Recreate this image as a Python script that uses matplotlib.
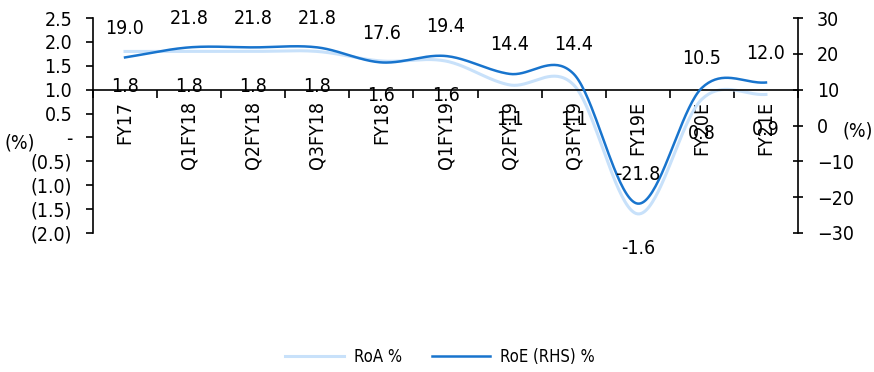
import numpy as np
import matplotlib.pyplot as plt
from matplotlib import font_manager

# pick a narrow font if one is there
names = {f.name for f in font_manager.fontManager.ttflist}
cond = [f for f in font_manager.fontManager.ttflist
        if f.name == "DejaVu Sans" and "condensed" in str(f.stretch)]
if "Liberation Sans Narrow" in names:
    plt.rcParams['font.family'] = ['Liberation Sans Narrow', 'DejaVu Sans']
    fs = 15
elif cond:
    plt.rcParams['font.family'] = ['DejaVu Sans']
    plt.rcParams['font.stretch'] = 'condensed'
    fs = 14
else:
    plt.rcParams['font.family'] = ['Liberation Sans', 'DejaVu Sans']
    fs = 13

# data
periods = ["FY17", "Q1FY18", "Q2FY18", "Q3FY18", "FY18", "Q1FY19",
           "Q2FY19", "Q3FY19", "FY19E", "FY20E", "FY21E"]
roa = [1.8, 1.8, 1.8, 1.8, 1.6, 1.6, 1.1, 1.1, -1.6, 0.8, 0.9]
roe = [19.0, 21.8, 21.8, 21.8, 17.6, 19.4, 14.4, 14.4, -21.8, 10.5, 12.0]

left_ticks = [2.5, 2.0, 1.5, 1.0, 0.5, 0.0, -0.5, -1.0, -1.5, -2.0]
left_tick_labels = ["2.5", "2.0", "1.5", "1.0", "0.5", "-",
                    "(0.5)", "(1.0)", "(1.5)", "(2.0)"]
right_ticks = [30, 20, 10, 0, -10, -20, -30]


def smooth(y, n=40):
    # catmull-rom style curve through the points (like excel smoothed lines)
    y = np.asarray(y, float)
    x = np.arange(len(y), dtype=float)
    m = np.gradient(y, x)
    xs, ys = [], []
    for i in range(len(y) - 1):
        t = np.linspace(0, 1, n, endpoint=(i == len(y) - 2))
        h00 = 2 * t**3 - 3 * t**2 + 1
        h10 = t**3 - 2 * t**2 + t
        h01 = -2 * t**3 + 3 * t**2
        h11 = t**3 - t**2
        xs.append(x[i] + t)
        ys.append(h00 * y[i] + h10 * m[i] + h01 * y[i + 1] + h11 * m[i + 1])
    return np.concatenate(xs), np.concatenate(ys)


fig = plt.figure(figsize=(8.74, 3.72), dpi=100)
ax = fig.add_axes([93 / 874, 1 - 233 / 372, (798 - 93) / 874, 215 / 372])
ax2 = ax.twinx()

c_roa = "#C8E1FA"
c_roe = "#1874CD"

x = np.arange(len(periods))
sx, sy = smooth(roa)
ax.plot(sx, sy, color=c_roa, lw=2.2, label="RoA %")
sx, sy = smooth(roe)
ax2.plot(sx, sy, color=c_roe, lw=1.8, label="RoE (RHS) %")

for i in x:
    ax.annotate(f"{roa[i]:.1f}", (i, roa[i]), xytext=(0, -25),
                textcoords="offset points", ha="center", va="center", fontsize=fs)
    ax2.annotate(f"{roe[i]:.1f}", (i, roe[i]), xytext=(0, 21),
                 textcoords="offset points", ha="center", va="center", fontsize=fs)

ax.set_xlim(-0.5, len(periods) - 0.5)
ax.set_ylim(-2, 2.5)
ax2.set_ylim(-30, 30)

ax.set_yticks(left_ticks)
ax.set_yticklabels(left_tick_labels)
ax2.set_yticks(right_ticks)

ax.set_xticks(x)
ax.set_xticklabels(periods)
ax.set_xticks(np.arange(-0.5, len(periods), 1.0), minor=True)
ax.tick_params(axis="x", which="major", length=0, pad=8, labelsize=fs, labelrotation=90)
ax.tick_params(axis="x", which="minor", length=6, width=1.2, direction="out")
ax.tick_params(axis="y", length=5, width=1.2, pad=10, labelsize=fs)
ax2.tick_params(axis="y", length=7, width=1.2, direction="inout", pad=10, labelsize=fs)
for lab in ax.get_xticklabels():
    lab.set_va("top")
    lab.set_ha("center")

ax.spines["bottom"].set_position(("data", 1.0))
for sp in ["top", "right"]:
    ax.spines[sp].set_visible(False)
for sp in ["top", "left", "bottom"]:
    ax2.spines[sp].set_visible(False)
for a in (ax, ax2):
    for sp in a.spines.values():
        sp.set_linewidth(1.2)

fig.text(20 / 874, 1 - 143 / 372, "(%)", fontsize=fs, ha="center", va="center")
fig.text(873 / 874, 1 - 131 / 372, "(%)", fontsize=fs, ha="right", va="center")

h1, l1 = ax.get_legend_handles_labels()
h2, l2 = ax2.get_legend_handles_labels()
fig.legend(h1 + h2, l1 + l2, loc="center", bbox_to_anchor=(440 / 874, 1 - 357 / 372),
           ncol=2, frameon=False, fontsize=fs - 2, handlelength=3.5,
           columnspacing=1.8, handletextpad=0.6)

fig.savefig("out.png", dpi=100)
